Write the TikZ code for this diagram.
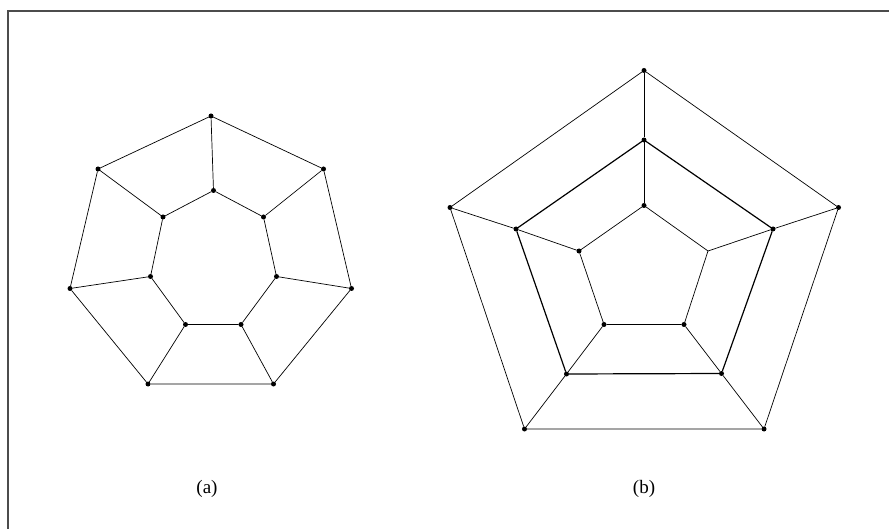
\documentclass[tikz,border=0pt]{standalone}
\usepackage{fontspec}
\setmainfont{Liberation Serif}
\usepackage{tikz}
\tikzset{
	vertexnode/.style={
			circle,
			fill=black,
			draw=none,
			inner sep=0pt,
			outer sep=0pt,
			minimum size=5pt
		},
	bendnode/.style={
			coordinate
		},
	edgeline/.style={
			line width=0.7pt,
			black
		},
	heavyline/.style={
			line width=1.2pt,
			black
		},
	frameline/.style={
			line width=1.4pt,
			black!70
		},
	captionnode/.style={
			font=\fontsize{19}{22}\selectfont,
			inner sep=0pt
		}
}

\begin{document}
\begin{tikzpicture}[x=1pt, y=-1pt]
\useasboundingbox (0,0) rectangle (889,529);

% frame
\coordinate (f1) at (8,529);
\coordinate (f2) at (8,11);
\coordinate (f3) at (889,11);
\draw[frameline] (f1) -- (f2) -- (f3);

% graph (a)
\node (a1) at (211,116) [vertexnode] {};
\node (a2) at (323.5,169) [vertexnode] {};
\node (a3) at (351.5,288.5) [vertexnode] {};
\node (a4) at (273.5,384) [vertexnode] {};
\node (a5) at (148,384) [vertexnode] {};
\node (a6) at (70,288.5) [vertexnode] {};
\node (a7) at (98,169) [vertexnode] {};
\node (a8) at (213.5,190.5) [vertexnode] {};
\node (a9) at (263.5,217) [vertexnode] {};
\node (a10) at (276.5,276.5) [vertexnode] {};
\node (a11) at (241,324.5) [vertexnode] {};
\node (a12) at (185.5,324.5) [vertexnode] {};
\node (a13) at (150.5,276.5) [vertexnode] {};
\node (a14) at (163,217) [vertexnode] {};

\draw[edgeline] (a1) -- (a2) -- (a3) -- (a4) -- (a5) -- (a6) -- (a7) -- (a1);
\draw[edgeline] (a8) -- (a9) -- (a10) -- (a11) -- (a12) -- (a13) -- (a14) -- (a8);
\draw[edgeline] (a1) -- (a8);
\draw[edgeline] (a2) -- (a9);
\draw[edgeline] (a3) -- (a10);
\draw[edgeline] (a4) -- (a11);
\draw[edgeline] (a5) -- (a12);
\draw[edgeline] (a6) -- (a13);
\draw[edgeline] (a7) -- (a14);

% graph (b)
\node (b1) at (644,70.5) [vertexnode] {};
\node (b2) at (838.5,207.5) [vertexnode] {};
\node (b3) at (764,429) [vertexnode] {};
\node (b4) at (524.5,429) [vertexnode] {};
\node (b5) at (450,207.5) [vertexnode] {};
\node (b6) at (644,140) [vertexnode] {};
\node (b7) at (773,229) [vertexnode] {};
\node (b8) at (721.5,373.5) [vertexnode] {};
\node (b9) at (566.5,374) [vertexnode] {};
\node (b10) at (516,229) [vertexnode] {};
\node (b11) at (644,205.5) [vertexnode] {};
\node (b12) at (708,251) [bendnode] {};
\node (b13) at (684,324.5) [vertexnode] {};
\node (b14) at (604,324.5) [vertexnode] {};
\node (b15) at (579,251) [vertexnode] {};

\draw[edgeline] (b1) -- (b2) -- (b3) -- (b4) -- (b5) -- (b1);
\draw[heavyline] (b6) -- (b7) -- (b8) -- (b9) -- (b10) -- (b6);
\draw[edgeline] (b11) -- (b12) -- (b13) -- (b14) -- (b15) -- (b11);
\draw[edgeline] (b1) -- (b6);
\draw[edgeline] (b6) -- (b11);
\draw[edgeline] (b2) -- (b7);
\draw[edgeline] (b7) -- (b12);
\draw[edgeline] (b3) -- (b8);
\draw[edgeline] (b8) -- (b13);
\draw[edgeline] (b4) -- (b9);
\draw[edgeline] (b9) -- (b14);
\draw[edgeline] (b5) -- (b10);
\draw[edgeline] (b10) -- (b15);

% captions
\node (capa) at (207,489) [captionnode] {(a)};
\node (capb) at (644,489) [captionnode] {(b)};

\end{tikzpicture}
\end{document}
